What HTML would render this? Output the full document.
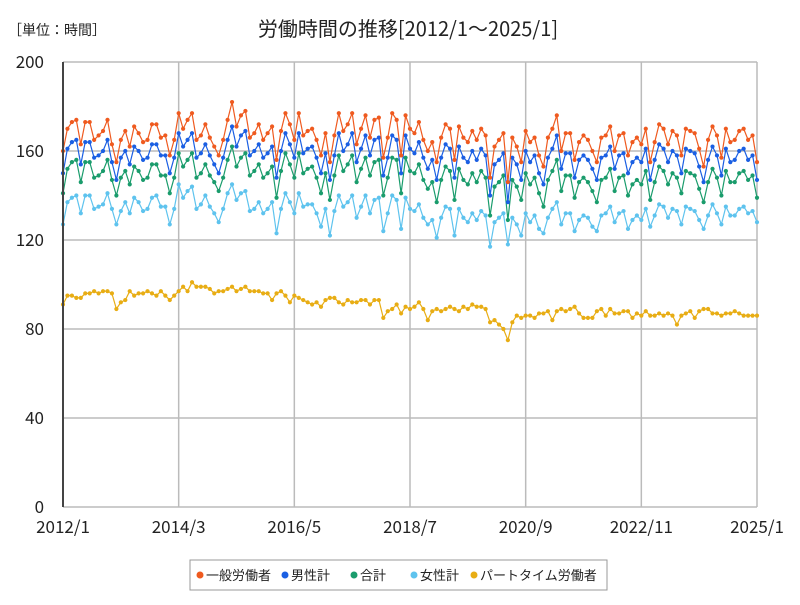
<!DOCTYPE html>
<html><head><meta charset="utf-8"><style>
body{margin:0;background:#fff;font-family:"Liberation Sans","Noto Sans CJK JP",sans-serif;}
</style></head><body>
<svg id="chart" width="800" height="600" xmlns="http://www.w3.org/2000/svg" style="font-family:'Noto Sans CJK JP','Liberation Sans',sans-serif">
<rect width="800" height="600" fill="#fff"/>
<text x="408" y="36" font-size="20" text-anchor="middle" fill="#222">労働時間の推移[2012/1～2025/1]</text>
<text x="8" y="35" font-size="14" fill="#222">［単位：時間］</text>
<g id="grid"></g><g id="series"></g><g id="axes"></g>
<g>
<rect x="190" y="560" width="417" height="30" fill="#fff" stroke="#999"/>
</g>
<g id="legend"></g>
</svg>
<script>
const xTicks=["2012/1","2014/3","2016/5","2018/7","2020/9","2022/11","2025/1"];
const xTickIdx=[0,26,52,78,104,130,156];
const yTicks=[0,40,80,120,160,200];
const seriesNames=["一般労働者","男性計","合計","女性計","パートタイム労働者"];
const general=[160,170,173,174,163,173,173,165,167,169,174,163,155,165,169,162,171,168,164,165,172,172,166,167,158,165,177,170,174,177,165,167,172,166,162,158,165,174,182,171,176,178,166,168,172,165,168,171,156,169,177,172,165,177,167,169,170,165,158,168,155,167,177,169,172,177,163,170,176,166,174,175,157,166,177,174,158,176,170,168,173,165,160,164,155,166,172,170,156,171,166,164,169,165,170,167,148,162,165,168,146,166,162,155,169,164,166,158,153,166,170,176,160,168,168,156,164,167,165,160,155,166,167,171,160,167,168,158,164,166,163,170,155,164,172,170,163,169,167,158,170,169,168,161,153,165,171,167,157,170,164,165,169,170,165,167,155];
const male=[150,161,164,165,154,164,164,157,158,160,165,155,147,157,160,154,162,160,156,157,163,163,158,158,150,157,168,162,165,168,157,159,163,158,154,150,157,165,171,162,167,169,158,160,163,157,159,162,148,160,168,163,157,168,159,161,162,157,150,159,147,158,168,160,163,168,155,161,167,158,165,166,149,157,167,165,150,167,161,159,164,157,152,156,147,157,163,161,148,162,157,155,160,156,161,158,140,154,156,159,137,157,154,147,160,155,158,150,145,157,161,167,152,159,159,148,156,158,156,152,147,157,158,162,152,158,159,150,155,157,155,161,147,156,163,161,155,160,158,150,161,160,159,153,146,156,162,158,149,161,155,156,160,161,156,158,147];
const total=[141,152,155,156,146,155,155,148,149,151,156,147,140,148,151,145,153,151,147,148,154,154,149,149,141,148,159,153,156,159,148,150,154,149,146,142,148,156,162,153,157,159,149,151,154,148,150,153,139,151,159,154,148,159,150,152,153,148,141,150,138,149,158,151,154,158,146,152,157,149,155,156,140,148,157,156,141,157,151,150,154,147,143,146,137,147,153,151,138,152,147,145,150,146,151,148,131,144,146,149,129,147,144,138,150,145,148,141,135,147,151,156,142,149,149,139,146,148,146,142,137,147,148,152,142,148,149,140,145,147,145,151,138,146,153,151,145,150,148,141,151,150,149,143,137,146,152,148,140,151,146,146,150,151,147,149,139];
const female=[127,137,139,140,132,140,140,134,135,136,141,134,127,133,137,132,139,137,133,134,139,140,135,135,127,134,145,139,142,144,134,136,140,135,132,128,134,141,145,138,141,142,133,134,137,132,134,137,123,134,141,137,132,141,135,136,136,132,126,134,122,133,140,135,137,140,130,135,140,132,138,139,124,132,140,138,125,139,134,133,136,130,127,129,121,130,135,134,122,134,130,128,132,129,133,131,117,128,130,132,118,130,127,122,132,128,131,125,123,130,134,137,127,132,132,124,129,131,130,126,124,131,132,135,128,132,133,125,129,131,129,134,126,131,136,135,130,134,133,127,135,134,133,129,125,131,136,132,127,135,131,131,134,135,132,133,128];
const parttime=[91,95,95,94,94,96,96,97,96,97,97,96,89,92,93,97,95,96,96,97,96,95,97,95,93,95,97,99,97,101,99,99,99,98,96,97,97,98,99,97,98,99,97,97,97,96,96,93,96,97,95,92,95,94,93,92,91,92,90,93,94,94,92,91,93,92,92,93,93,91,93,93,85,88,89,91,87,90,89,90,92,89,84,88,89,88,89,90,89,88,90,89,91,90,90,89,83,84,82,80,75,83,86,85,86,86,85,87,87,88,84,88,89,88,89,90,87,85,85,85,88,89,86,89,87,87,88,88,85,87,86,88,86,86,87,86,87,86,82,86,87,88,85,88,89,89,87,87,86,87,87,88,87,86,86,86,86];
const colors=["#ef5a1f","#1a5fe3","#1a9c6c","#5ec3ee","#e8ad14"];
const X0=63,X1=757,Y0=507,Y1=62,N=156;
function xs(i){return X0+(X1-X0)*i/N;}
function ys(v){return Y0-(Y0-Y1)*v/200;}
const NS="http://www.w3.org/2000/svg";
function mk(t,a,p){const e=document.createElementNS(NS,t);for(const k in a)e.setAttribute(k,a[k]);p.appendChild(e);return e;}
const grid=document.getElementById('grid'),axes=document.getElementById('axes'),sg=document.getElementById('series'),lg=document.getElementById('legend');
yTicks.forEach(v=>{
 const l=mk('line',{x1:X0,x2:X1,y1:ys(v),y2:ys(v),stroke:'#bbb','stroke-width':1.5},grid);
 
 
 const t=mk('text',{x:44,y:ys(v)+6,'font-size':17,'text-anchor':'end',fill:'#222'},axes);
 t.textContent=v;
 
 
});
xTicks.forEach((s,k)=>{
 const x=xs(xTickIdx[k]);
 const l=mk('line',{x1:x,x2:x,y1:Y1,y2:Y0,stroke:'#bbb','stroke-width':1.5},grid);
 
 
 const t=mk('text',{x:x,y:533,'font-size':17,'text-anchor':'middle',fill:'#222'},axes);
 t.textContent=s;
 
 
});
const ax=mk('line',{x1:X0,x2:X0,y1:Y1,y2:Y0,stroke:'#444','stroke-width':2},axes);


const data=[general,male,total,female,parttime];
const keys=["general","male","total","female","parttime"];
data.slice().reverse().forEach((arr,rk)=>{
 const k=data.length-1-rk;
 const g=mk('g',{},sg);
 
 
 const pts=arr.map((v,i)=>xs(i).toFixed(1)+','+ys(v).toFixed(1)).join(' ');
 const pl=mk('polyline',{points:pts,fill:'none',stroke:colors[k],'stroke-width':1.2},g);
 
 
 arr.forEach((v,i)=>{
  const c=mk('circle',{cx:xs(i),cy:ys(v),r:2.1,fill:colors[k]},g);
  
  
 });
});
const lx=[196,281,350,410,470];
seriesNames.forEach((n,k)=>{
 const c=mk('circle',{cx:lx[k]+4,cy:575,r:3.5,fill:colors[k]},lg);
 
 
 const t=mk('text',{x:lx[k]+10,y:580,'font-size':13,fill:'#222'},lg);
 t.textContent=n;
 
 
});
</script>
</body></html>
